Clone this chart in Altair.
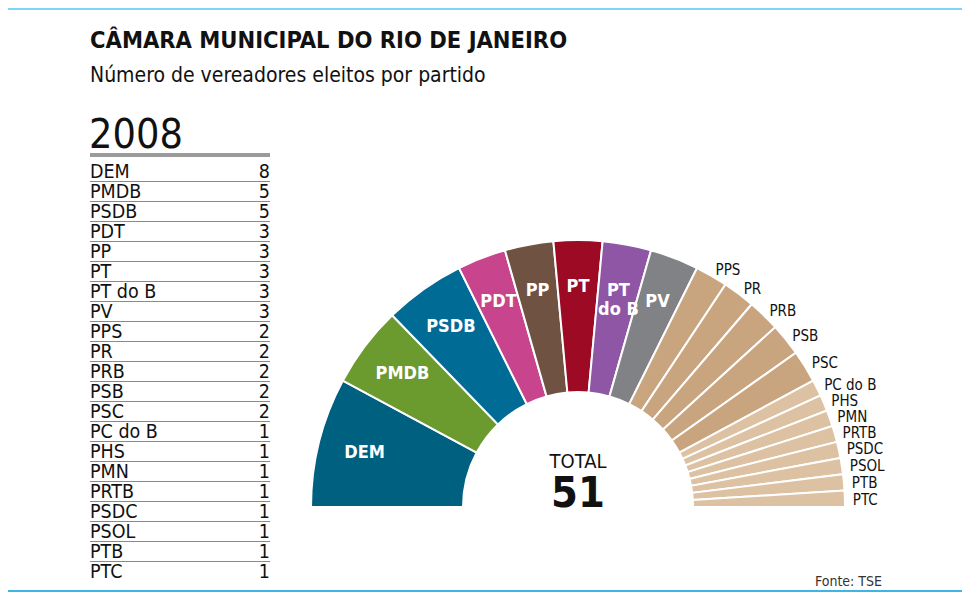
import math
import altair as alt
import pandas as pd

# ---- data ----
parties = ["DEM", "PMDB", "PSDB", "PDT", "PP", "PT", "PT do B", "PV",
           "PPS", "PR", "PRB", "PSB", "PSC",
           "PC do B", "PHS", "PMN", "PRTB", "PSDC", "PSOL", "PTB", "PTC"]
seats = [8, 5, 5, 3, 3, 3, 3, 3,
         2, 2, 2, 2, 2,
         1, 1, 1, 1, 1, 1, 1, 1]
colors = ["#00607f", "#6b9a2f", "#006b95", "#c8448c", "#6f5242", "#9c0a24",
          "#8e56a5", "#808285",
          "#c9a57f", "#c9a57f", "#c9a57f", "#c9a57f", "#c9a57f",
          "#dcc1a2", "#dcc1a2", "#dcc1a2", "#dcc1a2", "#dcc1a2", "#dcc1a2",
          "#dcc1a2", "#dcc1a2"]

title = "CÂMARA MUNICIPAL DO RIO DE JANEIRO"
subtitle = "Número de vereadores eleitos por partido"
year = "2008"
source = "Fonte:  TSE"

total = sum(seats)
FONT = "DejaVu Sans Condensed"

df = pd.DataFrame({
    "party": parties,
    "seats": seats,
    "idx": list(range(len(parties))),
    "inner": [p.replace(" do ", "\ndo ") if s >= 3 else "" for p, s in zip(parties, seats)],
    "outer": [p if s < 3 else "" for p, s in zip(parties, seats)],
})

CX, CY = 570, 499  # center of the half ring (plot coords)

theta_scale = alt.Scale(domain=[0, total], range=[-math.pi / 2, math.pi / 2])

base = alt.Chart(df).transform_window(
    cum="sum(seats)", sort=[alt.SortField("idx")]
).transform_calculate(
    start="datum.cum - datum.seats",
    mid="datum.cum - datum.seats / 2",
)

arcs = base.mark_arc(innerRadius=115, outerRadius=267, stroke="white", strokeWidth=2).encode(
    theta=alt.Theta("start:Q", scale=theta_scale),
    theta2="cum:Q",
    color=alt.Color("party:N", scale=alt.Scale(domain=parties, range=colors), legend=None),
    x=alt.value(CX), y=alt.value(CY),
)

inner_labels = base.mark_text(radius=220, font=FONT, fontSize=18, fontWeight="bold",
                              color="white", align="center", baseline="middle",
                              lineBreak="\n", lineHeight=19).encode(
    theta=alt.Theta("mid:Q", scale=theta_scale),
    text="inner:N",
    x=alt.value(CX), y=alt.value(CY),
)

outer_labels = base.mark_text(radius=275, font=FONT, fontSize=15, color="#111",
                              align="left", baseline="middle", dy=1).encode(
    theta=alt.Theta("mid:Q", scale=theta_scale),
    text="outer:N",
    x=alt.value(CX), y=alt.value(CY),
)

one = pd.DataFrame({"a": [0]})

center_total = alt.Chart(one).mark_text(text="TOTAL", font=FONT, fontSize=20, color="#111",
                                        align="center", baseline="alphabetic").encode(
    x=alt.value(CX), y=alt.value(460))
center_num = alt.Chart(pd.DataFrame({"t": [str(total)]})).mark_text(
    font=FONT, fontSize=43, fontWeight="bold", color="#111",
    align="center", baseline="alphabetic").encode(
    text="t:N", x=alt.value(CX), y=alt.value(499))

title_t = alt.Chart(one).mark_text(text=title, font=FONT, fontSize=23.5, fontWeight="bold",
                                   color="#111", align="left", baseline="alphabetic").encode(
    x=alt.value(82), y=alt.value(40))
subtitle_t = alt.Chart(one).mark_text(text=subtitle, font=FONT, fontSize=21, color="#111",
                                      align="left", baseline="alphabetic").encode(
    x=alt.value(82), y=alt.value(74))
year_t = alt.Chart(one).mark_text(text=year, font=FONT, fontSize=41, color="#111",
                                  align="left", baseline="alphabetic").encode(
    x=alt.value(81), y=alt.value(140))
bar = alt.Chart(one).mark_rule(color="#9b9b9b", strokeWidth=4).encode(
    x=alt.value(82), x2=alt.value(262), y=alt.value(147))

yscale = alt.Scale(domain=[0, len(parties) - 1], range=[170, 570], nice=False, zero=False)

tbl = alt.Chart(df)
tbl_names = tbl.mark_text(font=FONT, fontSize=19.5, color="#111", align="left",
                          baseline="alphabetic").encode(
    x=alt.value(82), y=alt.Y("idx:Q", scale=yscale, axis=None), text="party:N")
tbl_vals = tbl.mark_text(font=FONT, fontSize=19.5, color="#111", align="right",
                         baseline="alphabetic").encode(
    x=alt.value(262), y=alt.Y("idx:Q", scale=yscale, axis=None), text="seats:Q")
tbl_lines = tbl.transform_filter(f"datum.idx < {len(parties) - 1}").mark_rule(
    color="#8a8a8a", strokeWidth=1.2, yOffset=3.5).encode(
    x=alt.value(82), x2=alt.value(262), y=alt.Y("idx:Q", scale=yscale, axis=None))

top_line = alt.Chart(one).mark_rule(color="#7fd3f7", strokeWidth=2).encode(
    x=alt.value(0), x2=alt.value(954), y=alt.value(1))
bottom_line = alt.Chart(one).mark_rule(color="#3fb5e5", strokeWidth=2).encode(
    x=alt.value(0), x2=alt.value(954), y=alt.value(583))
source_t = alt.Chart(one).mark_text(text=source, font=FONT, fontSize=14, color="#333",
                                    align="left", baseline="alphabetic").encode(
    x=alt.value(807), y=alt.value(578))

chart = alt.layer(
    top_line, bottom_line, title_t, subtitle_t, year_t, bar,
    tbl_lines, tbl_names, tbl_vals,
    arcs, inner_labels, outer_labels, center_total, center_num, source_t,
).properties(
    width=954, height=584, padding=0, autosize=alt.AutoSizeParams(type="none"),
    background="white",
).configure_view(stroke=None)

chart.save("out.html", embed_options={"renderer": "svg", "actions": False})
